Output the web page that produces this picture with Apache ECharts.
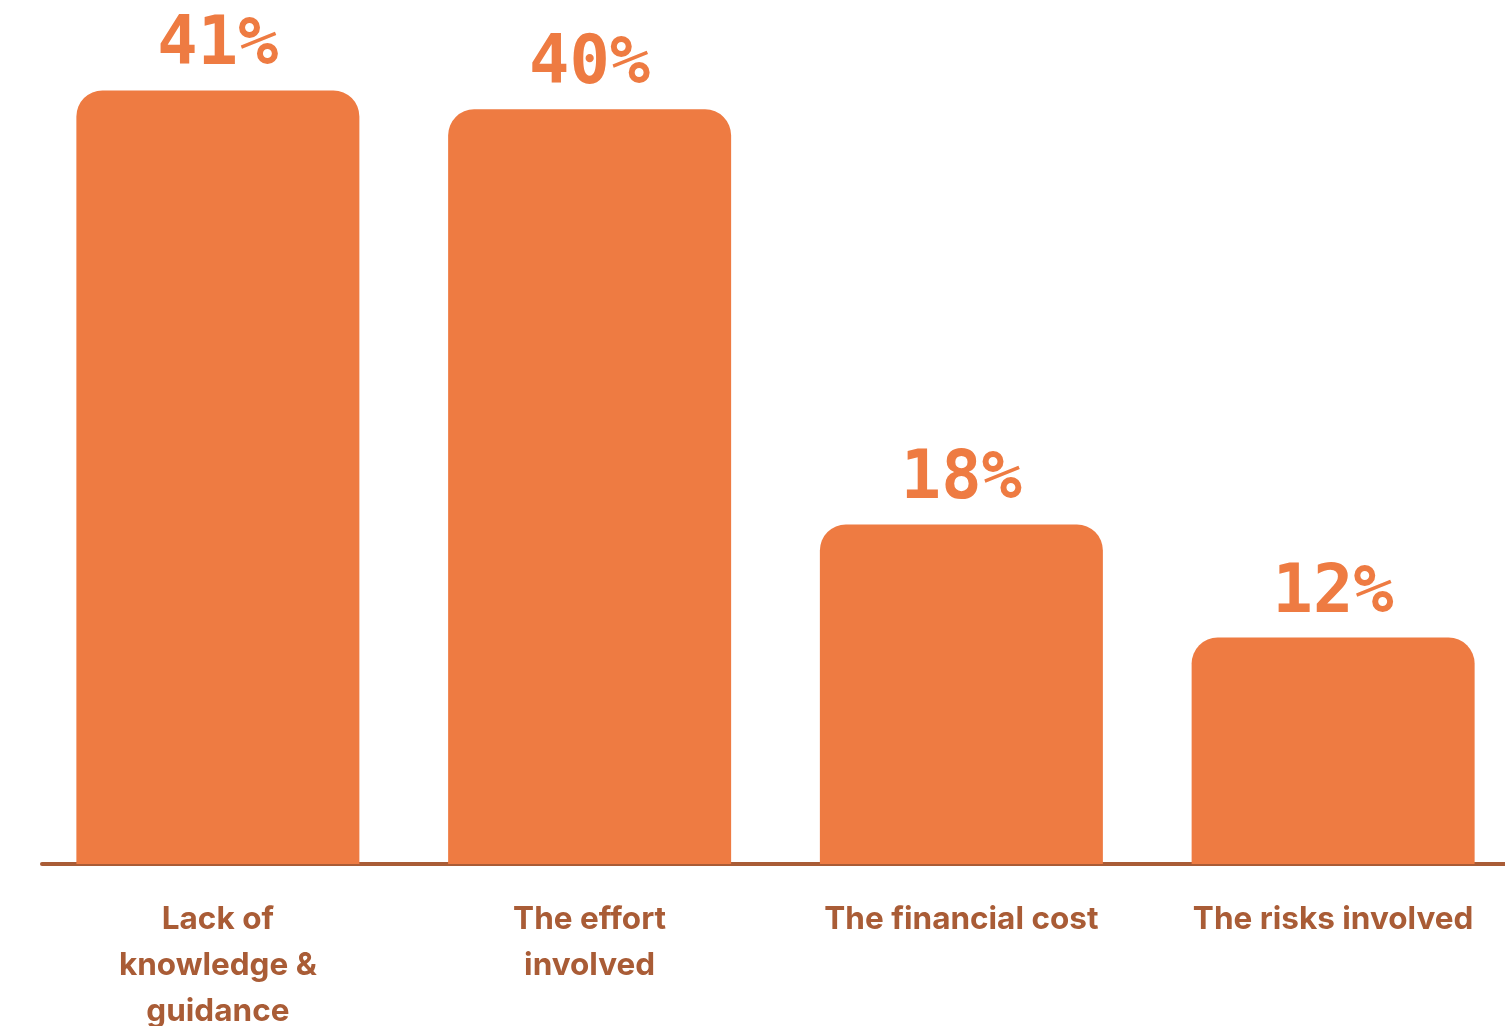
<!DOCTYPE html>
<html>
<head>
<meta charset="utf-8">
<script src="https://cdn.jsdelivr.net/npm/echarts@6/dist/echarts.min.js"></script>
<style>
  html, body { margin: 0; padding: 0; background: #ffffff; }
  #chart { width: 1505px; height: 1026px; }
</style>
</head>
<body>
<div id="chart"></div>
<script>
// Barriers and the share of respondents citing each
const categories = ['Lack of\nknowledge &\nguidance', 'The effort\ninvolved', 'The financial cost', 'The risks involved'];
const shares = [41, 40, 18, 12];

const BAR = '#EE7B42';
const BROWN = '#A95C36';

const chart = echarts.init(document.getElementById('chart'), null, { renderer: 'canvas' });

chart.setOption({
  backgroundColor: '#ffffff',
  animation: false,
  grid: [
    // plotting area for the bars
    { left: 32, top: 15, width: 1487, height: 849, containLabel: false, outerBoundsMode: 'none' },
    // baseline rule, starting a little inside the left edge
    { left: 42, top: 15, right: 0, height: 849, containLabel: false, outerBoundsMode: 'none' }
  ],
  xAxis: [
    {
      type: 'category',
      gridIndex: 0,
      data: categories,
      axisTick: { show: false },
      axisLine: { show: false },
      axisLabel: {
        color: BROWN,
        fontFamily: 'Inter',
        fontWeight: 700,
        fontSize: 31.5,
        lineHeight: 46,
        margin: 33,
        interval: 0
      }
    },
    {
      type: 'value',
      gridIndex: 1,
      min: 0,
      max: 1,
      axisTick: { show: false },
      axisLabel: { show: false },
      splitLine: { show: false },
      axisLine: { show: true, lineStyle: { color: BROWN, width: 4, cap: 'round' } }
    }
  ],
  yAxis: [
    { type: 'value', gridIndex: 0, min: 0, max: 45, show: false, splitLine: { show: false } },
    { type: 'value', gridIndex: 1, min: 0, max: 1, show: false, splitLine: { show: false } }
  ],
  series: [{
    type: 'bar',
    xAxisIndex: 0,
    yAxisIndex: 0,
    data: shares,
    barWidth: 283,
    z: 3,
    itemStyle: { color: BAR, borderRadius: [26, 26, 0, 0] },
    label: {
      show: true,
      position: 'top',
      distance: 10,
      formatter: '{c}%',
      color: BAR,
      fontFamily: 'DejaVu Sans Mono',
      fontWeight: 'bold',
      fontSize: 67
    }
  }]
});
</script>
</body>
</html>
